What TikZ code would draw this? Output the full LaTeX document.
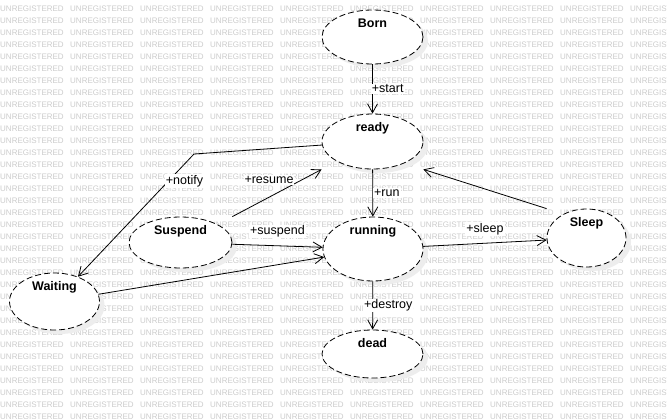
\documentclass[tikz,border=0pt]{standalone}
\usepackage{fontspec}
\setmainfont{Liberation Sans}
\usetikzlibrary{shapes.geometric, shadows, arrows.meta}

\begin{document}
\begin{tikzpicture}[
      x=1pt, y=-1pt,
      font=\fontsize{12.5}{14}\selectfont,
      state/.style={ellipse, draw=black, line width=0.8pt, dash pattern=on 6pt off 3pt, fill=white, inner sep=0pt,
        drop shadow={shadow xshift=5pt, shadow yshift=-4pt, fill=black!7, draw=none, opacity=1}},
      statename/.style={anchor=base, yshift=-18pt, inner sep=0pt, font=\fontsize{12.5}{14}\selectfont\bfseries},
      trans/.style={-{Straight Barb[length=9pt, width=10pt]}, line width=0.8pt},
      msg/.style={fill=white, inner sep=1pt},
      wmark/.style={anchor=west, inner sep=0pt, text=black!20, font=\fontsize{8}{8}\selectfont}
    ]
    \useasboundingbox[fill=white] (0,0) rectangle (667,418);
    \foreach \r in {0,...,34}
      \foreach \c in {0,...,9}
        \node[wmark] (wm\r-\c) at (\c*70, 9+\r*12) {UNREGISTERED};

    \node(born)[state, minimum width=101pt, minimum height=54pt, label={[statename]north:Born}] at (372.5,37) {};
    \node(ready)[state, minimum width=101pt, minimum height=55pt, label={[statename]north:ready}] at (372.5,141.5) {};
    \node(running)[state, minimum width=100pt, minimum height=64pt, label={[statename]north:running}] at (373,249) {};
    \node(dead)[state, minimum width=101pt, minimum height=48pt, label={[statename]north:dead}] at (372.5,354) {};
    \node(suspend)[state, minimum width=103pt, minimum height=51pt, label={[statename]north:Suspend}] at (180.5,242.5) {};
    \node(waiting)[state, minimum width=90pt, minimum height=57pt, label={[statename]north:Waiting}] at (54.5,301.5) {};
    \node(sleep)[state, minimum width=79pt, minimum height=58pt, label={[statename]north:Sleep}] at (586.5,238) {};
    \coordinate(bend) at (194,154);

    \draw [trans] (born) -- (ready) node[midway, msg, anchor=west, xshift=-2pt] {+start};
    \draw [trans] (ready) -- (running) node[midway, msg, anchor=west] {+run};
    \draw [trans] (running) -- (dead) node[midway, msg, anchor=west, xshift=-10pt] {+destroy};
    \draw [trans] (ready) -- (bend) -- (waiting) node[pos=0.22, msg, anchor=west, xshift=-4pt] {+notify};
    \draw [trans] (suspend.north -| suspend.east) -- (ready.south -| ready.west) node[midway, msg, above=8pt, xshift=-8pt] {+resume};
    \draw [trans] (suspend) -- (running) node[midway, msg, above=7pt] {+suspend};
    \draw [trans] (waiting) -- (running);
    \draw [trans] (running) -- (sleep) node[midway, msg, above=7pt] {+sleep};
    \draw [trans] (sleep.north -| sleep.west) -- (ready.south -| ready.east);
\end{tikzpicture}
\end{document}
